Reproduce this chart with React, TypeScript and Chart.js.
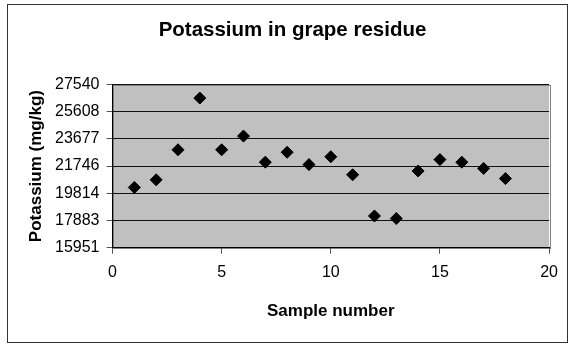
import React, { useEffect, useRef } from "react";
import { Chart, registerables } from "chart.js";

Chart.register(...registerables);

const sampleNumbers = [1, 2, 3, 4, 5, 6, 7, 8, 9, 10, 11, 12, 13, 14, 15, 16, 17, 18];
const potassiumValues = [
  20231, 20771, 22904, 26576, 22904, 23876, 22026, 22728, 21851, 22411,
  21128, 18205, 18023, 21398, 22208, 22026, 21581, 20858,
];
const yTickValues = [15951, 17883, 19814, 21746, 23677, 25608, 27540];
const xTickStep = 5;
const xMin = 0;
const xMax = 20;

const FONT = "'Liberation Sans', Arial, sans-serif";

const plotBackground = {
  id: "plotBackground",
  beforeDraw(chart: any) {
    const { ctx, chartArea } = chart;
    if (!chartArea) return;
    ctx.save();
    ctx.fillStyle = "#c0c0c0";
    ctx.fillRect(chartArea.left, chartArea.top, chartArea.right - chartArea.left, chartArea.bottom - chartArea.top);
    ctx.strokeStyle = "#808080";
    ctx.lineWidth = 1;
    ctx.strokeRect(
      Math.round(chartArea.left) + 0.5,
      Math.round(chartArea.top) + 0.5,
      Math.round(chartArea.right - chartArea.left),
      Math.round(chartArea.bottom - chartArea.top)
    );
    ctx.restore();
  },
};

export default function App() {
  const canvasRef = useRef<HTMLCanvasElement | null>(null);

  useEffect(() => {
    if (!canvasRef.current) return;
    const chart = new Chart(canvasRef.current, {
      type: "scatter",
      data: {
        datasets: [
          {
            label: "Potassium",
            data: sampleNumbers.map((x, i) => ({ x, y: potassiumValues[i] })),
            pointStyle: "rectRot",
            pointRadius: 6,
            pointHoverRadius: 6,
            backgroundColor: "#000",
            borderColor: "#000",
            borderWidth: 1,
          },
        ],
      },
      options: {
        responsive: false,
        animation: false,
        layout: { padding: { left: 22.5, right: 12.5, top: 0, bottom: 0 } },
        plugins: {
          legend: { display: false },
          tooltip: { enabled: false },
          title: {
            display: true,
            text: "Potassium in grape residue",
            color: "#000",
            font: { family: FONT, size: 20.5, weight: "bold" },
            padding: { top: 12.7, bottom: 42.2 },
          },
        },
        scales: {
          x: {
            type: "linear",
            min: xMin,
            max: xMax,
            border: { display: true, color: "#000", width: 1 },
            grid: {
              drawOnChartArea: false,
              drawTicks: true,
              tickLength: 6,
              tickColor: "#555",
            },
            ticks: {
              stepSize: xTickStep,
              color: "#000",
              padding: 9,
              font: { family: FONT, size: 16 },
              callback: (v: any) => String(v),
            },
            title: {
              display: true,
              text: "Sample number",
              color: "#000",
              font: { family: FONT, size: 17, weight: "bold" },
              padding: { top: 10.1, bottom: 20.6 },
            },
          },
          y: {
            type: "linear",
            min: yTickValues[0],
            max: yTickValues[yTickValues.length - 1],
            afterBuildTicks: (scale: any) => {
              scale.ticks = yTickValues.map((v) => ({ value: v }));
            },
            afterFit: (scale: any) => {
              scale.width = 82;
            },
            border: { display: true, color: "#000", width: 1 },
            grid: {
              drawOnChartArea: true,
              color: "#111",
              lineWidth: 1,
              drawTicks: true,
              tickLength: 6,
              tickColor: "#555",
            },
            ticks: {
              color: "#000",
              padding: 7,
              autoSkip: false,
              font: { family: FONT, size: 16 },
              callback: (v: any) => String(v),
            },
            title: {
              display: true,
              text: "Potassium (mg/kg)",
              color: "#000",
              font: { family: FONT, size: 17, weight: "bold" },
              padding: { top: -4.2, bottom: 0 },
            },
          },
        },
      },
      plugins: [plotBackground],
    });
    return () => chart.destroy();
  }, []);

  return (
    <div
      style={{
        position: "absolute",
        left: 7,
        top: 4,
        width: 561,
        height: 339,
        boxSizing: "border-box",
        border: "1px solid #333",
        background: "#fff",
      }}
    >
      <canvas ref={canvasRef} width={559} height={337} style={{ display: "block" }} />
    </div>
  );
}
